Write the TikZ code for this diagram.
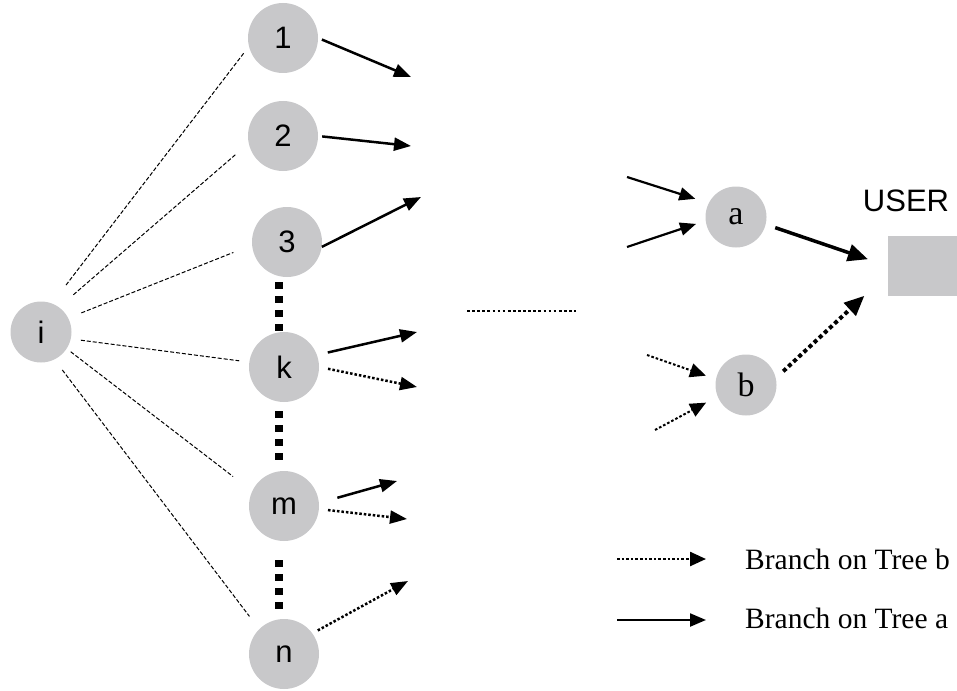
\documentclass[tikz,border=0pt]{standalone}
\usepackage{fontspec}
\setmainfont{Liberation Serif}
\newfontfamily\arialfont{Liberation Sans}
\usetikzlibrary{arrows.meta}
\definecolor{nodegray}{RGB}{200,200,202}
\begin{document}
\begin{tikzpicture}[x=1pt,y=-1pt,
  bignode/.style={circle,fill=nodegray,minimum size=70pt,inner sep=0pt,
    font=\arialfont\fontsize{31}{31}\selectfont},
  srcnode/.style={circle,fill=nodegray,minimum size=61pt,inner sep=0pt,
    font=\arialfont\fontsize{31}{31}\selectfont},
  treenode/.style={circle,fill=nodegray,minimum size=61pt,inner sep=0pt,
    font=\fontsize{34}{34}\selectfont},
  legtext/.style={anchor=west,inner sep=0pt,font=\fontsize{29.5}{29.5}\selectfont},
  link/.style={line width=1pt,dash pattern=on 4pt off 2pt},
  sepline/.style={line width=8pt,dash pattern=on 7pt off 7pt},
  solidarr/.style={line width=2.5pt,-{Triangle[length=17pt,width=13pt]}},
  dotarr/.style={line width=2.5pt,dash pattern=on 2.5pt off 2pt,
    -{Triangle[length=17pt,width=13pt]}},
  thinsolid/.style={line width=2.2pt,-{Triangle[length=16pt,width=13pt]}},
  thindot/.style={line width=2.4pt,dash pattern=on 2.6pt off 2pt,
    -{Triangle[length=16pt,width=14pt]}},
  bigarr/.style={line width=3.5pt,-{Triangle[length=20pt,width=17pt]}},
  bigdot/.style={line width=4pt,dash pattern=on 4pt off 3pt,
    -{Triangle[length=20pt,width=17pt]}},
]
\useasboundingbox (0,0) rectangle (957,690);

% source node and first-level nodes
\node[srcnode] (i) at (41,332) {i};
\node[bignode] (n1) at (283,38) {1};
\node[bignode] (n2) at (283,136) {2};
\node[bignode] (n3) at (287,242) {3};
\node[bignode] (k) at (284,367) {k};
\node[bignode] (m) at (284,506) {m};
\node[bignode] (n) at (284,654) {n};

% tree roots and the user
\node[treenode] (a) at (736,217) {a};
\node[treenode] (b) at (746,385) {b};
\node[fill=nodegray,minimum width=69pt,minimum height=60pt,inner sep=0pt]
  (user) at (922.5,266) {};
\node[font=\arialfont\fontsize{31}{31}\selectfont] (userlabel) at (906,200.5) {USER};

% links from i
\draw[link,shorten <=23pt,shorten >=7pt] (i.69) -- (n1.194);
\draw[link,shorten <=19pt,shorten >=17pt] (i.54) -- (n2.192);
\draw[link,shorten <=14pt,shorten >=20pt] (i.27) -- (n3.185);
\draw[link,shorten <=10pt,shorten >=10pt] (i.-13) -- (k.172);
\draw[link,shorten <=5pt,shorten >=24pt] (i.-33) -- (m.155);
\draw[link,shorten <=13pt,shorten >=16pt] (i.-64) -- (n.135);

% vertical ellipsis between nodes
\draw[sepline,shorten <=5pt] ([xshift=-8pt]n3.south) -- ([xshift=-5pt]k.north);
\draw[sepline,shorten <=9pt,shorten >=11pt] ([xshift=-5pt]k.south) -- ([xshift=-5pt]m.north);
\draw[sepline,shorten <=19pt,shorten >=10pt] ([xshift=-5pt]m.south) -- ([xshift=-5pt]n.north);

% outgoing branches
\coordinate (t1) at (411,77);
\coordinate (t2) at (411,146);
\coordinate (t3) at (421,197);
\coordinate (tk1) at (417,332);
\coordinate (tk2) at (417,387);
\coordinate (tm1) at (397,481);
\coordinate (tm2) at (407,519);
\coordinate (tn) at (408,581);
\draw[solidarr,shorten <=4pt] (n1.east) -- (t1);
\draw[solidarr,shorten <=4pt] (n2.east) -- (t2);
\draw[solidarr] (n3.-8) -- (t3);
\draw[solidarr,shorten <=11pt] (k.20) -- (tk1);
\draw[dotarr,shorten <=9pt] (k.east) -- (tk2);
\draw[solidarr,shorten <=19pt] (m.5) -- (tm1);
\draw[dotarr,shorten <=9pt] (m.-5) -- (tm2);
\draw[dotarr,shorten <=6pt] (n.36) -- (tn);

% horizontal ellipsis
\coordinate (d1) at (467,311);
\coordinate (d2) at (576,311);
\draw[line width=2.7pt,dash pattern=on 2.7pt off 2.4pt] (d1) -- (d2);

% branches into the trees
\coordinate (sa1) at (627,177);
\coordinate (sa2) at (627,247);
\coordinate (sb1) at (647,355);
\coordinate (sb2) at (655,430);
\draw[thinsolid,shorten >=14pt] (sa1) -- (a.153);
\draw[thinsolid,shorten >=10pt] (sa2) -- (a.187);
\draw[thindot,line width=2pt,shorten >=10.5pt] (sb1) -- (b.169);
\draw[thindot,line width=2pt,shorten >=13pt] (sb2) -- (b.202);

% trees to the user
\draw[bigarr,shorten <=10pt,shorten >=21pt] (a.-14) -- (user.west);
\draw[bigdot,shorten <=10pt,shorten >=32pt] (b.13) -- (user.193);

% legend
\node[legtext] (legb) at (745,559) {Branch on Tree b};
\node[legtext] (lega) at (745,618) {Branch on Tree a};
\coordinate (lb) at (617,559);
\coordinate (la) at (617,620);
\draw[thindot,shorten >=39pt] (lb) -- (legb.west);
\draw[thinsolid,shorten >=39pt] (la) -- (lega.west |- la);
\end{tikzpicture}
\end{document}
